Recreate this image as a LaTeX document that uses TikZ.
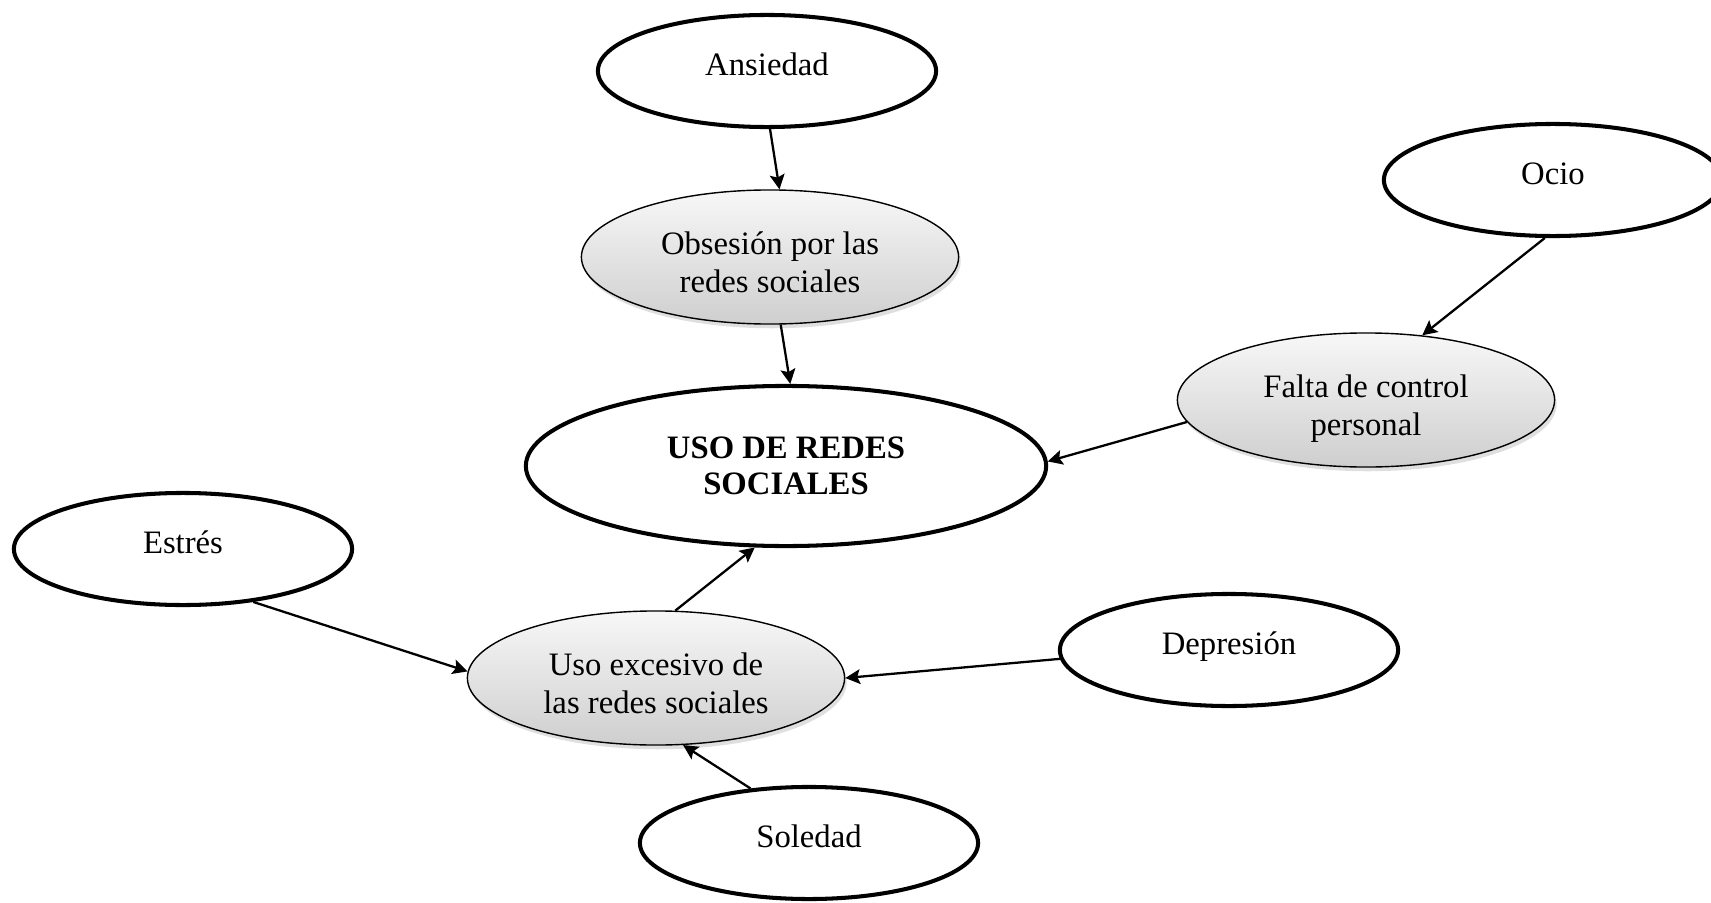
\documentclass[tikz,border=0pt]{standalone}
\usepackage{fontspec}
\setmainfont{Liberation Serif}
\usepackage{tikz}
\usetikzlibrary{arrows.meta, positioning, shapes.geometric, shadows}

\begin{document}
\begin{tikzpicture}[x=0.01cm, y=-0.01cm,
            factor/.style={ellipse, draw, line width=1.15pt, fill=white, minimum width=3.38cm, minimum height=1.12cm, inner sep=0pt, align=center, text height=6.3pt, text depth=3.9pt, font=\fontsize{9.3}{10.6}\selectfont},
            central/.style={ellipse, draw, line width=1.15pt, fill=white, minimum width=5.2cm, minimum height=1.6cm, inner sep=0pt, align=center, font=\fontsize{9.3}{10.2}\selectfont\bfseries},
            effect/.style={ellipse, draw, line width=0.4pt, top color=gray!6, bottom color=gray!38, drop shadow={opacity=0.25, shadow xshift=0.6pt, shadow yshift=-1.2pt}, minimum width=3.77cm, minimum height=1.34cm, inner sep=0pt, align=center, text height=20.4pt, text depth=0pt, font=\fontsize{9.3}{10.8}\selectfont},
            leads/.style={-{Stealth[length=4.2pt, width=4.2pt, inset=0.8pt]}, line width=0.65pt}]

            \useasboundingbox (0,0) rectangle (1711,903);

            % Central node
            \node[central] (uso) at (786,466) {USO DE REDES\\SOCIALES};

            % Intermediate (shaded) nodes
            \node[effect] (obsesion) at (770,257) {Obsesión por las\\redes sociales};
            \node[effect] (falta) at (1366,400) {Falta de control\\personal};
            \node[effect] (excesivo) at (656,678) {Uso excesivo de\\las redes sociales};

            % Outer factors
            \node[factor] (ansiedad) at (767,71) {Ansiedad};
            \node[factor] (ocio) at (1553,180) {Ocio};
            \node[factor] (estres) at (183,549) {Estrés};
            \node[factor] (depresion) at (1229,650) {Depresión};
            \node[factor] (soledad) at (809,843) {Soledad};

            % Connections
            \draw[leads] (ansiedad.-87) -- (obsesion.82);
            \draw[leads] (obsesion.-81) -- (uso.87);
            \draw[leads] (ocio.262) -- (falta.49);
            \draw[leads] (falta.187) -- (uso.1);
            \draw[leads] (excesivo.74) -- (uso.249);
            \draw[leads] (estres.-37) -- (excesivo.178);
            \draw[leads] (depresion.183) -- (excesivo.0);
            \draw[leads] (soledad.137) -- (excesivo.-68);
        \end{tikzpicture}
\end{document}
